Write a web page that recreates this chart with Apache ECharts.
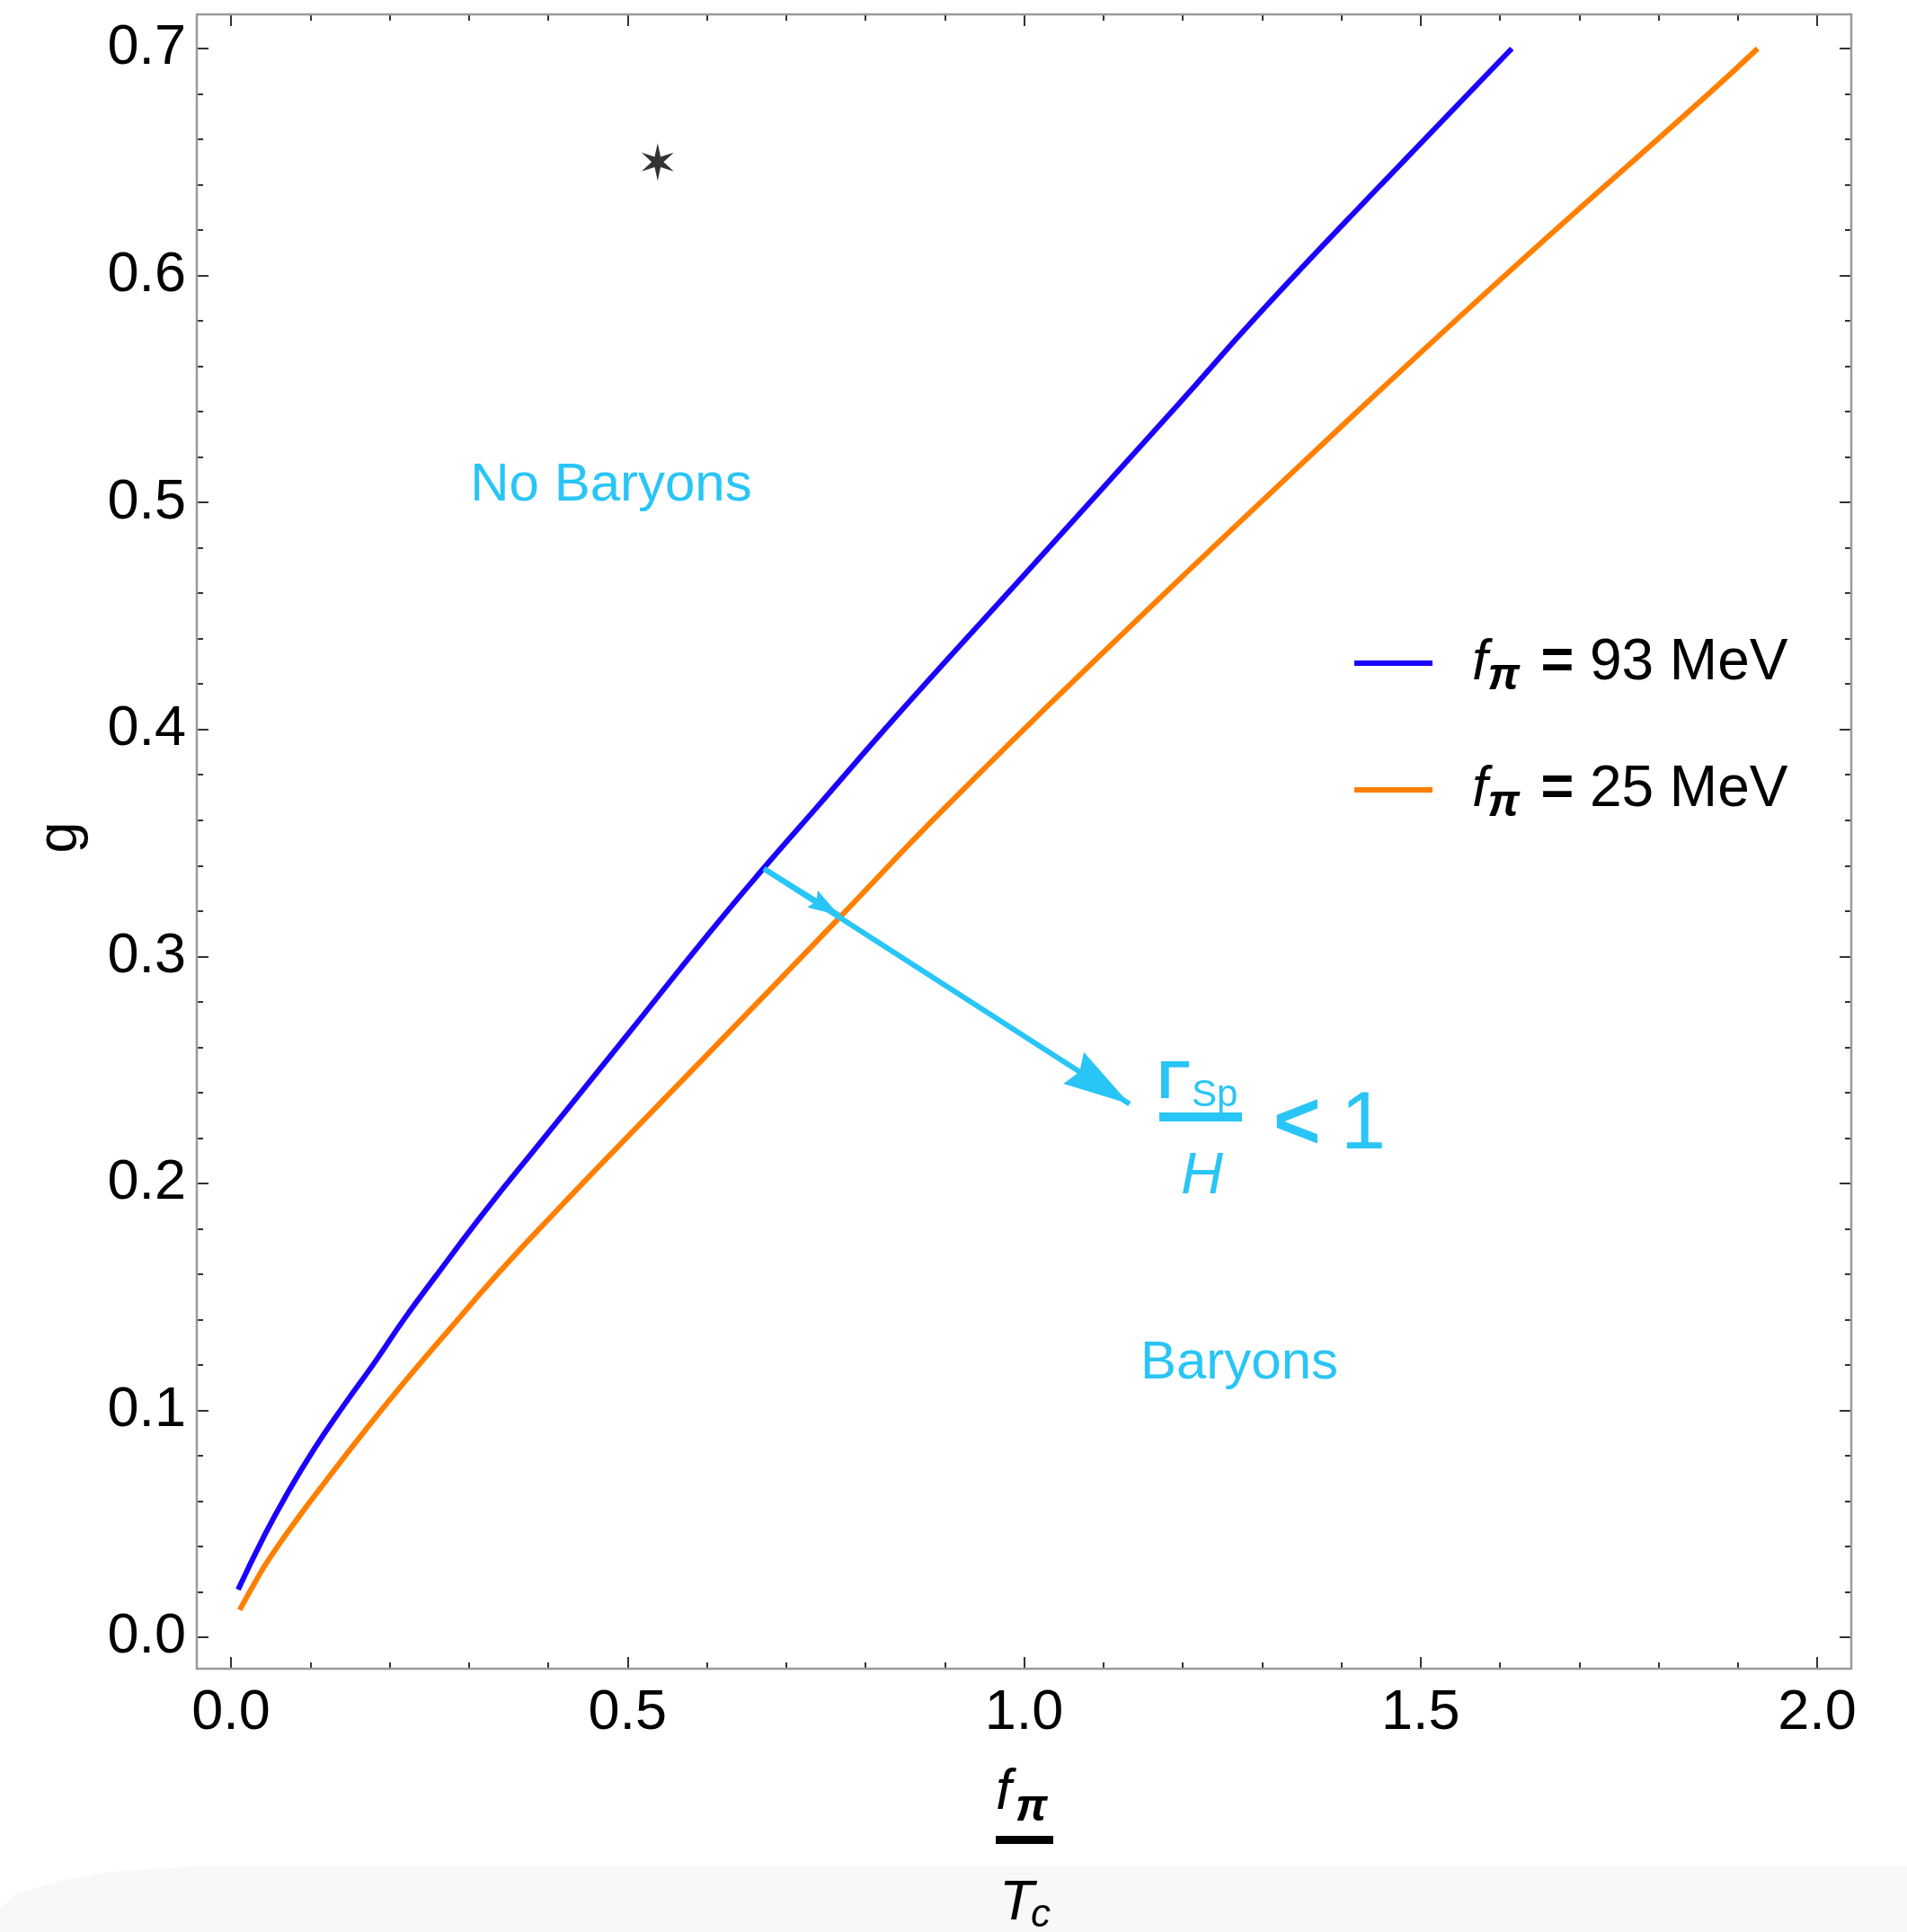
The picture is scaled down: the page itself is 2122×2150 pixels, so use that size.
<!DOCTYPE html>
<html>
<head>
<meta charset="utf-8">
<script src="https://cdn.jsdelivr.net/npm/echarts@6.0.0/dist/echarts.min.js"></script>
<style>
html, body { margin: 0; padding: 0; background: #fff; }
#main { width: 2122px; height: 2150px; }
</style>
</head>
<body>
<div id="main"></div>
<script>
// axis ranges (f_pi / T_c across, g up)
var xMin = 0, xMax = 2, xStep = 0.5;
var gMin = 0, gMax = 0.7, gStep = 0.1;

// f_pi = 93 MeV curve
var blueX = [0.009, 0.041, 0.068, 0.105, 0.143, 0.181, 0.219, 0.257, 0.321, 0.389, 0.500, 0.600, 0.672, 0.737, 0.842, 1.000, 1.194, 1.296, 1.450, 1.615];
var blueG = [0.021, 0.044, 0.0615, 0.083, 0.1025, 0.121, 0.1405, 0.1585, 0.188, 0.2175, 0.2655, 0.309, 0.339, 0.365, 0.407, 0.468, 0.543, 0.583, 0.640, 0.700];

// f_pi = 25 MeV curve
var orangeX = [0.011, 0.030, 0.049, 0.0865, 0.120, 0.170, 0.220, 0.280, 0.340, 0.408, 0.500, 0.600, 0.767, 0.899, 1.100, 1.353, 1.600, 1.863, 1.925];
var orangeG = [0.012, 0.024, 0.035, 0.0535, 0.069, 0.0915, 0.113, 0.1375, 0.1615, 0.187, 0.2205, 0.2565, 0.317, 0.365, 0.434, 0.518, 0.598, 0.680, 0.700];

var seriesNames = ['fπ = 93 MeV', 'fπ = 25 MeV'];
var starPoint = [0.538, 0.65];
var arrowFrom = [0.672, 0.3386];
var arrowMid = [0.767, 0.318];
var arrowTo = [1.133, 0.235];

var cyan = '#29c5f6';
var font = 'Liberation Sans';

function zip(xs, ys) {
    return xs.map(function (x, i) { return [x, ys[i]]; });
}

// six armed asterisk like the mathematica marker
function starPath() {
    var d = '';
    for (var k = 0; k < 12; k++) {
        var a = (90 + k * 30) * Math.PI / 180;
        var r = k % 2 === 0 ? 10 : 3.2;
        d += (k === 0 ? 'M' : 'L') + (r * Math.cos(a)).toFixed(3) + ',' + (-r * Math.sin(a)).toFixed(3) + ' ';
    }
    return 'path://' + d + 'Z';
}

function makeAxis(kind, pos, offset, labels) {
    var isX = kind === 'x';
    return {
        type: 'value',
        position: pos,
        offset: offset,
        min: isX ? xMin : gMin,
        max: isX ? xMax : gMax,
        interval: isX ? xStep : gStep,
        axisLine: { show: false, onZero: false },
        splitLine: { show: false },
        axisTick: { show: true, inside: true, length: 13, lineStyle: { color: '#333', width: 2 } },
        minorTick: { show: true, splitNumber: 5, length: 7, lineStyle: { color: '#333', width: 2 } },
        axisLabel: {
            show: labels,
            margin: isX ? 18 : 12,
            fontSize: 63,
            fontFamily: font,
            color: '#000',
            formatter: function (v) { return v.toFixed(1); }
        }
    };
}

function txt(text, x, y, size, opts) {
    opts = opts || {};
    return {
        type: 'text',
        x: x, y: y,
        rotation: opts.rotation || 0,
        z: 20,
        silent: true,
        style: {
            text: text,
            fontSize: size,
            fontFamily: font,
            fontStyle: opts.italic ? 'italic' : 'normal',
            fontWeight: opts.bold ? 'bold' : 'normal',
            fill: opts.color || '#000',
            align: opts.align || 'left',
            textAlign: opts.align || 'left',
            verticalAlign: 'middle',
            textVerticalAlign: 'middle'
        }
    };
}

function bar(x, y, w, h, color) {
    return { type: 'rect', z: 20, silent: true, shape: { x: x, y: y, width: w, height: h }, style: { fill: color } };
}

var myChart = echarts.init(document.getElementById('main'), null, { renderer: 'canvas' });

var option = {
    animation: false,
    backgroundColor: '#fff',
    grid: { left: 257, right: 100, top: 54, bottom: 328, containLabel: false },
    xAxis: [makeAxis('x', 'bottom', 35, true), makeAxis('x', 'top', 38, false)],
    yAxis: [makeAxis('y', 'left', 38, true), makeAxis('y', 'right', 38, false)],
    legend: {
        data: seriesNames,
        orient: 'vertical',
        left: 1507,
        top: 706,
        padding: 0,
        itemWidth: 87,
        itemHeight: 6,
        itemGap: 69,
        icon: 'rect',
        selectedMode: false,
        formatter: function (name) {
            return '{f|f}{p|π}{eq| = }{t|' + name.split('= ')[1] + '}';
        },
        textStyle: {
            rich: {
                f: { fontFamily: font, fontStyle: 'italic', fontSize: 63, lineHeight: 80, color: '#000', padding: [0, 0, 0, 39] },
                p: { fontFamily: font, fontStyle: 'italic', fontWeight: 'bold', fontSize: 50, lineHeight: 56, verticalAlign: 'bottom', color: '#000', padding: [0, 6, 0, 0] },
                eq: { fontFamily: font, fontWeight: 'bold', fontSize: 63, lineHeight: 80, color: '#000' },
                t: { fontFamily: font, fontSize: 64, lineHeight: 80, color: '#000' }
            }
        }
    },
    graphic: [
        // light band at the very bottom of the scan
        { type: 'polygon', z: -5, silent: true,
          shape: { points: [[0, 2123], [19, 2107], [72, 2092], [124, 2083], [225, 2076], [2122, 2076], [2122, 2150], [0, 2150]] },
          style: { fill: '#f8f8f8' } },
        // plot frame
        { type: 'rect', z: 5, silent: true,
          shape: { x: 219, y: 16, width: 1841, height: 1841 },
          style: { fill: 'none', stroke: '#9a9a9a', lineWidth: 2.5 } },
        // y title
        txt('g', 68, 932, 63, { rotation: Math.PI / 2, align: 'center' }),
        // x title: f_pi / T_c
        txt('f', 1108, 1995, 63, { italic: true }),
        txt('π', 1130, 2012, 50, { italic: true, bold: true }),
        bar(1108, 2043, 64, 9, '#000'),
        txt('T', 1112, 2118, 63, { italic: true }),
        txt('c', 1147, 2132, 44, { italic: true }),
        // region labels
        txt('No Baryons', 680, 540, 60, { align: 'center', color: cyan }),
        txt('Baryons', 1379, 1517, 60, { align: 'center', color: cyan }),
        // Gamma_Sp / H < 1
        txt('Γ', 1288, 1205, 60, { bold: true, color: cyan }),
        txt('Sp', 1326, 1219, 42, { color: cyan }),
        bar(1290, 1238, 92, 10, cyan),
        txt('H', 1314, 1310, 65, { italic: true, color: cyan }),
        txt('<', 1417, 1253, 90, { bold: true, color: cyan }),
        txt('1', 1492, 1253, 90, { color: cyan })
    ],
    series: [
        {
            name: seriesNames[0],
            type: 'line',
            data: zip(blueX, blueG),
            showSymbol: false,
            smooth: 0.5,
            color: '#1a00ff',
            lineStyle: { color: '#1a00ff', width: 6 },
            silent: true,
            z: 3
        },
        {
            name: seriesNames[1],
            type: 'line',
            data: zip(orangeX, orangeG),
            showSymbol: false,
            smooth: 0.5,
            color: '#ff7f00',
            lineStyle: { color: '#ff7f00', width: 6 },
            silent: true,
            z: 3
        },
        {
            type: 'scatter',
            data: [starPoint],
            symbol: starPath(),
            symbolSize: [36, 42],
            itemStyle: { color: '#000' },
            silent: true
        },
        {
            // long arrow with the big head
            type: 'line',
            data: [],
            silent: true,
            markLine: {
                silent: true,
                animation: false,
                symbol: ['none', 'path://M21,0 L42,74 L21,66 L0,74 Z'],
                symbolSize: [42, 74],
                symbolOffset: [[0, 0], [0, 37]],
                label: { show: false },
                emphasis: { disabled: true },
                lineStyle: { color: cyan, width: 6, type: 'solid', opacity: 1 },
                data: [[{ coord: arrowFrom }, { coord: arrowTo }]]
            }
        },
        {
            // small head where the arrow crosses the orange curve
            type: 'line',
            data: [],
            silent: true,
            markLine: {
                silent: true,
                animation: false,
                symbol: ['none', 'path://M11,0 L22,35 L11,30 L0,35 Z'],
                symbolSize: [22, 35],
                symbolOffset: [[0, 0], [0, 17.5]],
                label: { show: false },
                emphasis: { disabled: true },
                lineStyle: { color: cyan, width: 6, type: 'solid', opacity: 1 },
                data: [[{ coord: arrowFrom }, { coord: arrowMid }]]
            }
        }
    ]
};

myChart.setOption(option, true);
</script>
</body>
</html>
